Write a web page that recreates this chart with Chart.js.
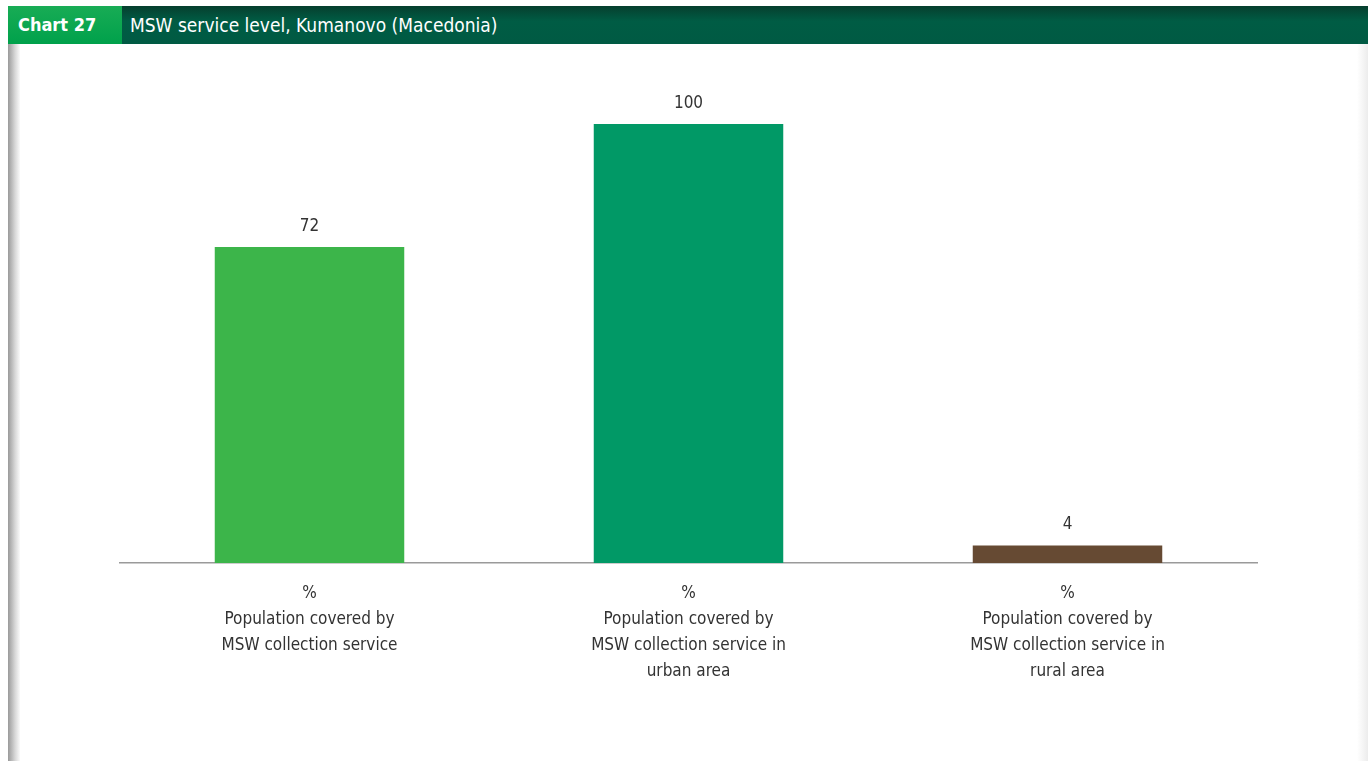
<!DOCTYPE html>
<html><head><meta charset="utf-8">
<script src="https://cdn.jsdelivr.net/npm/chart.js@4.4.0/dist/chart.umd.min.js"></script>
<style>
html,body{margin:0;padding:0;background:#fff;width:1368px;height:761px;overflow:hidden;font-family:"DejaVu Sans Condensed",sans-serif;}
#hdr{position:absolute;left:8px;top:6px;width:1360px;height:38px;background:linear-gradient(#063f2e,#005c44 40%,#005a43);}
#num{position:absolute;left:0;top:0;width:114px;height:38px;background:linear-gradient(#18ac55,#00a14b);color:#fff;font-weight:bold;font-size:18px;line-height:38px;padding-left:10px;box-sizing:border-box;}
#ttl{position:absolute;left:122px;top:0;height:38px;line-height:38px;color:#fff;font-size:19px;}
#lstrip{position:absolute;left:8px;top:44px;width:12px;height:717px;background:linear-gradient(90deg,#9a9a9a,#d8d8d8 60%,#fafafa);}
#rstrip{position:absolute;left:1357px;top:44px;width:11px;height:717px;background:linear-gradient(90deg,#fff,#ececec);}
#wrap{position:absolute;left:0;top:0;width:1368px;height:761px;}
</style></head>
<body>
<div id="hdr"><div id="num">Chart 27</div><div id="ttl">MSW service level, Kumanovo (Macedonia)</div></div>
<div id="lstrip"></div><div id="rstrip"></div>
<div id="wrap"><canvas id="c" width="1368" height="761"></canvas></div>
<script>
const categories = [
  ['%', 'Population covered by', 'MSW collection service'],
  ['%', 'Population covered by', 'MSW collection service in', 'urban area'],
  ['%', 'Population covered by', 'MSW collection service in', 'rural area']
];
const values = [72, 100, 4];
const barColors = ['#3cb54a', '#019966', '#664a33'];

const FONT = '"DejaVu Sans Condensed",sans-serif';

const valueLabels = {
  id: 'valueLabels',
  afterDatasetsDraw(chart) {
    const ctx = chart.ctx;
    const meta = chart.getDatasetMeta(0);
    ctx.save();
    ctx.font = '17px ' + FONT;
    ctx.fillStyle = '#333';
    ctx.textAlign = 'center';
    ctx.textBaseline = 'bottom';
    meta.data.forEach((bar, i) => {
      ctx.fillText(String(values[i]), bar.x, bar.y - 12);
    });
    ctx.restore();
  }
};

new Chart(document.getElementById('c'), {
  type: 'bar',
  data: {
    labels: categories,
    datasets: [{ data: values, backgroundColor: barColors, borderWidth: 0,
      categoryPercentage: 1.0, barPercentage: 0.5 }]
  },
  options: {
    responsive: false,
    animation: false,
    layout: { padding: { top: 124, left: 120, right: 111, bottom: 0 } },
    plugins: { legend: { display: false }, tooltip: { enabled: false } },
    scales: {
      y: { display: false, min: 0, max: 100 },
      x: {
        grid: { display: false },
        border: { display: true, color: '#9a9a9a', width: 1.5 },
        ticks: { color: '#333', font: { family: FONT, size: 17, lineHeight: 1.53 }, padding: 10, maxRotation: 0, autoSkip: false },
        afterFit(scale) { scale.height = 198; }
      }
    }
  },
  plugins: [valueLabels]
});
</script>
</body></html>
